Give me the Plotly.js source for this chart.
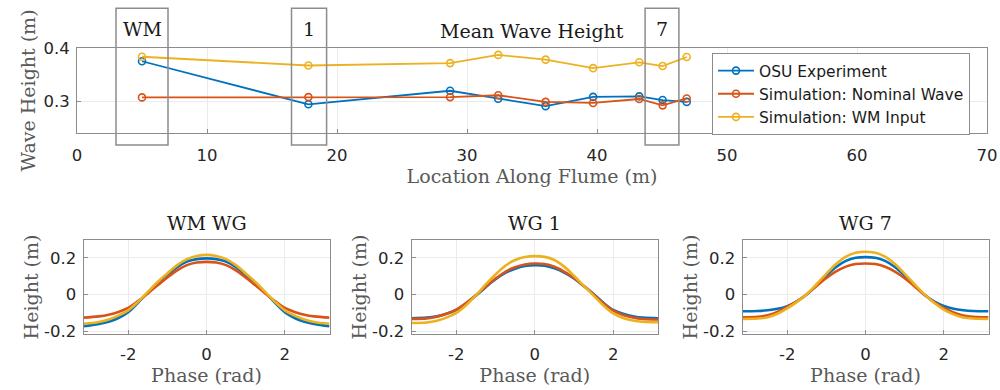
<!DOCTYPE html>
<html>
<head>
<meta charset="utf-8">
<script src="https://cdn.plot.ly/plotly-3.0.1.min.js"></script>
<style>html,body{margin:0;padding:0;background:#fff;}#chart{width:1000px;height:390px;}</style>
</head>
<body>
<div id="chart"></div>
<script>
// ---------- Top panel data: mean wave height along the flume ----------
const location_m = [5, 17.8, 28.7, 32.4, 36.05, 39.7, 43.25, 45.05, 46.9];
const osuExperiment = [0.375, 0.294, 0.3195, 0.3045, 0.2905, 0.308, 0.309, 0.302, 0.2985];
const simNominal = [0.307, 0.3075, 0.3075, 0.311, 0.2985, 0.2965, 0.304, 0.292, 0.305];
const simWMInput = [0.3835, 0.367, 0.3715, 0.387, 0.378, 0.362, 0.373, 0.366, 0.383];

const seriesNames = ['OSU Experiment', 'Simulation: Nominal Wave', 'Simulation: WM Input'];

// highlighted gauges
const boxLabels = ['WM', '1', '7'];
const boxStart = [3, 16.5, 43.7];
const boxEnd = [7, 19.2, 46.3];

// ---------- Bottom panels: phase-averaged wave profile ----------
const phase = [-3.1416, -2.75, -2.5, -2.25, -2, -1.75, -1.5, -1.25, -1, -0.75, -0.5, -0.25, 0,
               0.25, 0.5, 0.75, 1, 1.25, 1.5, 1.75, 2, 2.25, 2.5, 2.75, 3.1416];
const panelTitles = ['WM WG', 'WG 1', 'WG 7'];

const wmOSU = [-0.173, -0.160, -0.148, -0.128, -0.096, -0.045, 0.010, 0.063, 0.107, 0.149, 0.179, 0.193, 0.197,
               0.193, 0.179, 0.149, 0.107, 0.063, 0.010, -0.045, -0.096, -0.128, -0.148, -0.160, -0.173];
const wmNominal = [-0.126, -0.119, -0.110, -0.095, -0.073, -0.036, 0.006, 0.050, 0.093, 0.132, 0.160, 0.174, 0.178,
                   0.174, 0.160, 0.132, 0.093, 0.050, 0.006, -0.036, -0.073, -0.095, -0.110, -0.119, -0.126];
const wmInput = [-0.160, -0.150, -0.136, -0.115, -0.086, -0.040, 0.014, 0.068, 0.115, 0.160, 0.193, 0.210, 0.216,
                 0.210, 0.193, 0.160, 0.115, 0.068, 0.014, -0.040, -0.086, -0.115, -0.136, -0.150, -0.160];

const wg1OSU = [-0.129, -0.126, -0.119, -0.105, -0.084, -0.048, -0.006, 0.040, 0.083, 0.118, 0.141, 0.155, 0.160,
                0.157, 0.143, 0.120, 0.088, 0.046, 0.003, -0.045, -0.084, -0.105, -0.118, -0.126, -0.129];
const wg1Nominal = [-0.133, -0.130, -0.121, -0.105, -0.082, -0.046, -0.003, 0.043, 0.087, 0.124, 0.149, 0.164, 0.169,
                    0.166, 0.151, 0.125, 0.090, 0.047, 0.000, -0.048, -0.088, -0.111, -0.125, -0.133, -0.136];
const wg1Input = [-0.155, -0.152, -0.143, -0.126, -0.100, -0.058, -0.005, 0.055, 0.109, 0.157, 0.188, 0.204, 0.209,
                  0.205, 0.188, 0.152, 0.102, 0.048, -0.006, -0.060, -0.103, -0.128, -0.141, -0.148, -0.151];

const wg7OSU = [-0.091, -0.090, -0.086, -0.078, -0.063, -0.037, 0.000, 0.050, 0.103, 0.150, 0.183, 0.200, 0.204,
                0.200, 0.183, 0.150, 0.103, 0.050, 0.000, -0.037, -0.062, -0.078, -0.086, -0.090, -0.091];
const wg7Nominal = [-0.124, -0.121, -0.113, -0.095, -0.068, -0.036, 0.002, 0.047, 0.090, 0.126, 0.152, 0.166, 0.169,
                    0.166, 0.151, 0.125, 0.089, 0.045, -0.001, -0.041, -0.073, -0.098, -0.114, -0.121, -0.124];
const wg7Input = [-0.133, -0.131, -0.124, -0.105, -0.076, -0.040, 0.002, 0.056, 0.113, 0.166, 0.206, 0.227, 0.233,
                  0.227, 0.206, 0.166, 0.113, 0.056, 0.002, -0.045, -0.082, -0.108, -0.125, -0.131, -0.133];

const topYTicks = [0.3, 0.4];
const topXTicks = [0, 10, 20, 30, 40, 50, 60, 70];
const phaseTickVals = [-2, 0, 2];
const phaseTickText = ['-2', '0', '2'];
const heightTickVals = [-0.2, 0, 0.2];
const heightTickText = ['-0.2', '0', '0.2'];

// ---------- styles ----------
const colors = ['#0072BD', '#D95319', '#EDB120'];
const SERIF = 'DejaVu Serif, Liberation Serif, serif';
const SANS = 'DejaVu Sans, Liberation Sans, sans-serif';
const tickFont = {family: SANS, size: 16.5, color: '#262626'};
const axTitleFont = {family: SERIF, size: 19, color: '#595959'};
const titleFont = {family: SERIF, size: 19, color: '#1a1a1a'};
const frameColor = '#8c8c8c';
const gridColor = '#ebebeb';

const traces = [];
[osuExperiment, simNominal, simWMInput].forEach((vals, i) => {
  traces.push({
    x: location_m, y: vals, type: 'scatter', mode: 'lines+markers',
    name: seriesNames[i], xaxis: 'x', yaxis: 'y',
    line: {color: colors[i], width: 1.8},
    marker: {symbol: 'circle-open', size: 7, color: colors[i], line: {width: 1.6, color: colors[i]}},
    cliponaxis: false
  });
});

const panels = [[wmOSU, wmNominal, wmInput], [wg1OSU, wg1Nominal, wg1Input], [wg7OSU, wg7Nominal, wg7Input]];
panels.forEach((set, p) => {
  set.forEach((vals, i) => {
    traces.push({
      x: phase, y: vals, type: 'scatter', mode: 'lines',
      name: seriesNames[i], showlegend: false,
      xaxis: 'x' + (p + 2), yaxis: 'y' + (p + 2),
      line: {color: colors[i], width: 2.6, shape: 'spline', smoothing: 1}
    });
  });
});

function baseAxis(extra) {
  return Object.assign({
    showline: true, mirror: true, linecolor: frameColor, linewidth: 1,
    ticks: 'inside', ticklen: 4, tickcolor: frameColor,
    showgrid: true, gridcolor: gridColor, gridwidth: 1,
    zeroline: false, tickfont: tickFont, automargin: false, fixedrange: true
  }, extra);
}

const bottomXDomains = [[0.0835, 0.3295], [0.4115, 0.658], [0.7425, 0.9885]];
const bottomYDomain = [0.1436, 0.3846];

const layout = {
  width: 1000, height: 390,
  margin: {l: 0, r: 0, t: 0, b: 0},
  paper_bgcolor: '#ffffff', plot_bgcolor: '#ffffff',
  showlegend: true,
  legend: {
    x: 0.712, y: 0.864, xanchor: 'left', yanchor: 'top',
    bgcolor: '#ffffff', bordercolor: '#8c8c8c', borderwidth: 1,
    font: {family: SANS, size: 15.5, color: '#1a1a1a'},
    itemwidth: 36, tracegroupgap: 0
  },
  xaxis: baseAxis({
    domain: [0.077, 0.987], range: [0, 70], tickvals: topXTicks, anchor: 'y',
    ticklabelstandoff: 7,
    title: {text: 'Location Along Flume (m)', font: axTitleFont, standoff: 2}
  }),
  yaxis: baseAxis({
    domain: [0.659, 0.877], range: [0.24, 0.4], tickvals: topYTicks, anchor: 'x',
    tickformat: '.1f', ticklabelstandoff: 3,
    title: {text: 'Wave Height (m)', font: axTitleFont, standoff: 2}
  }),
  shapes: [],
  annotations: [
    {text: 'Mean Wave Height', xref: 'paper', yref: 'paper', x: 0.532, y: 0.921,
     xanchor: 'center', yanchor: 'middle', showarrow: false, font: titleFont}
  ]
};

for (let p = 0; p < 3; p++) {
  const n = p + 2;
  layout['xaxis' + n] = baseAxis({
    domain: bottomXDomains[p], range: [-3.1416, 3.1416],
    tickvals: phaseTickVals, ticktext: phaseTickText,
    anchor: 'y' + n, ticklabelstandoff: 5,
    title: {text: 'Phase (rad)', font: axTitleFont, standoff: 2}
  });
  layout['yaxis' + n] = baseAxis({
    domain: bottomYDomain, range: [-0.215, 0.297],
    tickvals: heightTickVals, ticktext: heightTickText, anchor: 'x' + n,
    ticklabelstandoff: 3,
    title: {text: 'Height (m)', font: axTitleFont, standoff: 0}
  });
  layout.annotations.push({
    text: panelTitles[p], xref: 'x' + n + ' domain', yref: 'paper', x: 0.5, y: 0.428,
    xanchor: 'center', yanchor: 'middle', showarrow: false, font: titleFont
  });
}

boxLabels.forEach((lab, i) => {
  layout.shapes.push({
    type: 'rect', xref: 'x', yref: 'paper',
    x0: boxStart[i], x1: boxEnd[i], y0: 0.628, y1: 0.979,
    line: {color: '#8c8c8c', width: 1.5}, fillcolor: 'rgba(0,0,0,0)', layer: 'above'
  });
  layout.annotations.push({
    text: lab, xref: 'x', yref: 'paper', x: (boxStart[i] + boxEnd[i]) / 2, y: 0.926,
    xanchor: 'center', yanchor: 'middle', showarrow: false, font: titleFont
  });
});

Plotly.newPlot('chart', traces, layout, {staticPlot: true, displayModeBar: false});
</script>
</body>
</html>
